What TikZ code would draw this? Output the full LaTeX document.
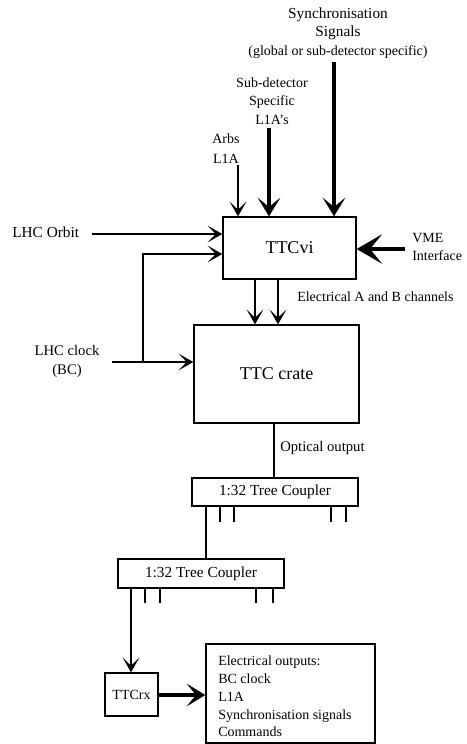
\documentclass[tikz,border=0pt]{standalone}
\usepackage{fontspec}
\setmainfont{Liberation Serif}
\usetikzlibrary{arrows.meta,fit}
\begin{document}
\begin{tikzpicture}[x=0.75pt,y=-0.75pt,
  box/.style={draw,line width=1pt,inner sep=0pt},
  lbl/.style={font=\fontsize{10.5}{14}\selectfont,inner sep=0pt},
  title/.style={font=\fontsize{13.5}{16}\selectfont},
  thin/.style={line width=0.9pt},
  thinarrow/.style={line width=0.9pt,-{Stealth[length=11pt,width=12.5pt,inset=6pt]}},
  thickarrow/.style={line width=2.3pt,-{Stealth[length=14pt,width=17pt,inset=7pt]}},
  vmearrow/.style={line width=3.2pt,-{Stealth[length=19pt,width=22pt,inset=9pt]}}]
\useasboundingbox[fill=white] (0,0) rectangle (467,744);

% boxes
\node[box,fit={(223,217)(356,279)}] (ttcvi) {};
\node[title] at (ttcvi.center) {TTCvi};
\node[box,fit={(194,325)(359,423)}] (crate) {};
\node[title] at (crate.center) {TTC crate};
\node[box,fit={(192,478)(358,506)}] (c1) {};
\node[lbl,font=\fontsize{11.5}{14}\selectfont] at (c1.center) {1:32 Tree Coupler};
\node[box,fit={(118,559)(284,588)}] (c2) {};
\node[lbl,font=\fontsize{11.5}{14}\selectfont] at (c2.center) {1:32 Tree Coupler};
\node[box,fit={(105,673)(158,716)}] (rx) {};
\node[lbl] at (rx.center) {TTCrx};
\node[box,fit={(206,644)(375,743)}] (out) {};
\node[lbl,anchor=north west,align=left,font=\fontsize{10.5}{13.3}\selectfont] (outtxt) at (218,656)
  {Electrical outputs:\\BC clock\\L1A\\Synchronisation signals\\Commands};

% labels
\node[lbl,align=center,font=\fontsize{10.5}{14}\selectfont] (synctxt) at (338,33)
  {{\fontsize{11.5}{14}\selectfont Synchronisation}\\{\fontsize{11.5}{14}\selectfont Signals}\\(global or sub-detector specific)};
\node[lbl,align=center] (subtxt) at (272,101) {Sub-detector\\Specific\\L1A's};
\node[lbl,align=center,font=\fontsize{10.5}{15.5}\selectfont] (arbtxt) at (226,148.5) {Arbs\\L1A};
\node[lbl,anchor=west,font=\fontsize{11.5}{14}\selectfont] (orbtxt) at (12,232) {LHC Orbit};
\node[lbl,align=center,font=\fontsize{11}{14}\selectfont] (clktxt) at (67,361.5) {LHC clock\\(BC)};
\node[lbl,align=left,anchor=west] (vmetxt) at (412,247) {VME\\Interface};
\node[lbl,anchor=west] (abtxt) at (297,297) {Electrical A and B channels};
\node[lbl,anchor=west,font=\fontsize{11}{14}\selectfont] (opttxt) at (280,448) {Optical output};

% coordinates
\coordinate (arbs) at (238,165);
\coordinate (sub) at (269,128);
\coordinate (sync) at (334,62);
\coordinate (vme) at (405,249);
\coordinate (orb) at (92,234);
\coordinate (clk) at (112,362);
\coordinate (br) at (143,362);
\coordinate (brt) at (143,254);
\coordinate (chA) at (255,300);
\coordinate (chB) at (278,300);
\coordinate (opt) at (274,450);
\coordinate (c1c2) at (206,530);
\coordinate (c2rx) at (131,620);
\coordinate (rxo) at (180,695);

% connectors
\draw[thinarrow] (arbs) -- (arbs |- ttcvi.north);
\draw[thickarrow] (sub) -- (sub |- ttcvi.north);
\draw[thickarrow] (sync) -- (sync |- ttcvi.north);
\draw[vmearrow] (vme) -- (vme -| ttcvi.east);
\draw[thinarrow] (orb) -- (orb -| ttcvi.west);
\draw[thinarrow] (br) -- (brt) -- (brt -| ttcvi.west);
\draw[thinarrow] (clk) -- (clk -| crate.west);
\draw[thinarrow] (chA |- ttcvi.south) -- (chA |- crate.north);
\draw[thinarrow] (chB |- ttcvi.south) -- (chB |- crate.north);
\draw[thin] (opt |- crate.south) -- (opt |- c1.north);
\draw[thin] (c1c2 |- c1.south) -- (c1c2 |- c2.north);
\foreach \x in {220,234,331,346} \draw[thin] (\x,506) -- (\x,522);
\foreach \x in {145,160,256,273} \draw[thin] (\x,588) -- (\x,603);
\draw[thinarrow] (c2rx |- c2.south) -- (c2rx |- rx.north);
\draw[thickarrow] (rx.east |- rxo) -- (rxo -| out.west);
\end{tikzpicture}
\end{document}
